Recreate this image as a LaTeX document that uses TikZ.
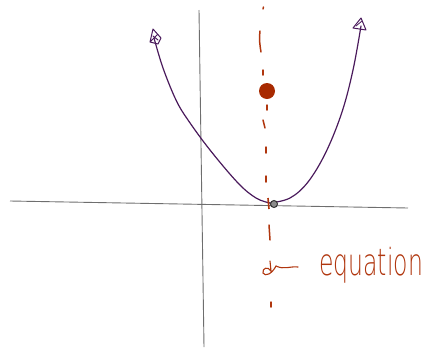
\documentclass[tikz,border=0pt]{standalone}
\usepackage{fontspec}
\newfontfamily\handfont{DejaVu Sans ExtraLight}
\definecolor{axisgray}{HTML}{6E6E6E}
\definecolor{curvepurple}{HTML}{4A1A5C}
\definecolor{rust}{HTML}{B0360E}
\definecolor{focusred}{HTML}{A82A00}
\tikzset{
  axisline/.style={draw=axisgray, line width=0.9pt},
  curveline/.style={draw=curvepurple, line width=1.2pt, line cap=round, line join=round},
  symdash/.style={draw=rust, line width=1.5pt, line cap=round},
  labeltext/.style={text=rust, font=\fontsize{24}{26}\handfont\selectfont, xscale=0.98, yscale=1.55, inner sep=0pt}
}
\begin{document}
\begin{tikzpicture}[x=1pt,y=-1pt]
\useasboundingbox (0,0) rectangle (434,349);
% axes
\coordinate (xl) at (10,201);
\coordinate (xr) at (408,208);
\coordinate (yt) at (199,10);
\coordinate (yb) at (204,347);
\draw[axisline] (xl) -- (xr);
\draw[axisline] (yt) -- (yb);
% axis of symmetry (hand-drawn dashes)
\draw[symdash] (263.5,7) -- (263,9);
\draw[symdash] (260,31) .. controls (259,40) and (260,46) .. (261,52);
\draw[symdash] (263,70) -- (263,75);
\draw[symdash] (267,105) -- (267,110);
\draw[symdash] (263,120) -- (265,128);
\draw[symdash] (266,147) -- (266,153);
\draw[symdash] (266,176) -- (266,182);
\draw[symdash] (269,225) -- (270,240);
\draw[symdash] (271,302) -- (271,307);
% parabola
\coordinate (vtx) at (270,203);
\draw[curveline] plot[smooth, tension=0.6] coordinates {(154,38) (163,68) (176,100) (188,120) (210,150) (238,183) (256,198) (270,203)};
\draw[curveline] plot[smooth, tension=0.6] coordinates {(270,203) (290,198) (308,182) (326,152) (342,112) (353,70) (361,26)};
% arrow ends
\draw[curveline, line width=1pt] (150,42) -- (153,29) -- (161,38) -- (158,44) -- (150,42) -- (157,35);
\draw[curveline, line width=1pt] (153,36) -- (158,40);
\draw[curveline, line width=1pt] (353,28) -- (361,18) -- (366,30) -- cycle;
\draw[curveline, line width=0.8pt] (356,26) -- (362,21);
% focus
\node[circle, fill=focusred, minimum size=16pt, inner sep=0pt] (focus) at (267,91) {};
% vertex mark
\draw[rust, line width=1.6pt] (268,198) -- (269,209);
\node[circle, draw=black!80, fill=black!45, line width=1pt, minimum size=7pt, inner sep=0pt] (vmark) at (274,204) {};
% label scribble
\coordinate (ps) at (276,268);
\coordinate (pe) at (298,267);
\draw[rust, line width=1.1pt, line cap=round] (270,261) -- (271,271) .. controls (268,266) and (262,268) .. (263,273) .. controls (265,277) and (272,274) .. (276,266);
\draw[rust, line width=1.1pt, line cap=round] (276,266) .. controls (284,270) and (290,266) .. (pe);
\node[labeltext, anchor=west] (eq) at (319,265) {equation};
\end{tikzpicture}
\end{document}
